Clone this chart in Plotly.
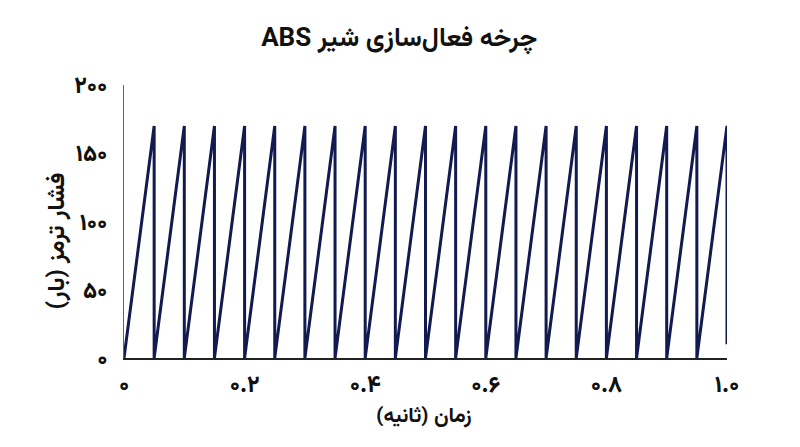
import plotly.graph_objects as go

# sawtooth points: ramp 0 -> 170 every 0.05 s, then sudden drop
time_s = [0.00, 0.05, 0.05, 0.10, 0.10, 0.15, 0.15, 0.20, 0.20, 0.25, 0.25,
          0.30, 0.30, 0.35, 0.35, 0.40, 0.40, 0.45, 0.45, 0.50, 0.50,
          0.55, 0.55, 0.60, 0.60, 0.65, 0.65, 0.70, 0.70, 0.75, 0.75,
          0.80, 0.80, 0.85, 0.85, 0.90, 0.90, 0.95, 0.95, 1.00, 1.00]
pressure_bar = [0, 170, 0, 170, 0, 170, 0, 170, 0, 170, 0,
                170, 0, 170, 0, 170, 0, 170, 0, 170, 0,
                170, 0, 170, 0, 170, 0, 170, 0, 170, 0,
                170, 0, 170, 0, 170, 0, 170, 0, 170, 10]

x_ticks = [0, 0.2, 0.4, 0.6, 0.8, 1.0]
x_labels = ["۰", "۰.۲", "۰.۴", "۰.۶", "۰.۸", "۱.۰"]
y_ticks = [0, 50, 100, 150, 200]
y_labels = ["۰", "۵۰", "۱۰۰", "۱۵۰", "۲۰۰"]

RLE, PDF = "\u202b", "\u202c"  # force right-to-left reading order


def rtl(s):
    return RLE + s + PDF


fig = go.Figure()
fig.add_trace(go.Scatter(x=time_s, y=pressure_bar, mode="lines",
                         line=dict(color="#121a50", width=3),
                         showlegend=False, hoverinfo="skip"))

font_fam = "Vazirmatn, Noto Sans Arabic, DejaVu Sans"
fig.update_layout(
    width=800, height=447,
    paper_bgcolor="white", plot_bgcolor="white",
    margin=dict(l=116, r=81, t=77, b=97),
    title=dict(text="<b>" + rtl("چرخه فعال‌سازی شیر ABS") + "</b>",
               x=0.489, xanchor="center", y=0.935, yanchor="middle",
               font=dict(family=font_fam, size=26, color="#111111")),
    font=dict(family=font_fam, color="#111111"),
)
fig.update_xaxes(range=[0, 1.0], tickvals=x_ticks, ticktext=x_labels,
                 showgrid=False, zeroline=False, showline=True,
                 linecolor="#222222", linewidth=1.5, ticks="", automargin=False,
                 ticklabelstandoff=5,
                 tickfont=dict(family=font_fam, size=23, color="#111111", weight=800))
fig.update_yaxes(range=[0, 200], tickvals=y_ticks, ticktext=y_labels,
                 showgrid=False, zeroline=False, showline=True,
                 linecolor="#666666", linewidth=1, ticks="", automargin=False,
                 ticklabelstandoff=11,
                 tickfont=dict(family=font_fam, size=23, color="#111111", weight=800))

# axis titles
fig.add_annotation(text="<b>" + rtl("زمان (ثانیه)") + "</b>", xref="paper", yref="paper",
                   x=0.497, y=-0.216, xanchor="center", yanchor="middle", showarrow=False,
                   font=dict(family=font_fam, size=21, color="#111111"))
fig.add_annotation(text="<b>" + rtl("فشار ترمز (بار)") + "</b>", xref="paper", yref="paper",
                   x=-0.1095, y=0.43, xanchor="center", yanchor="middle", showarrow=False,
                   textangle=-90, font=dict(family=font_fam, size=24, color="#111111"))

fig.write_html("out.html")
